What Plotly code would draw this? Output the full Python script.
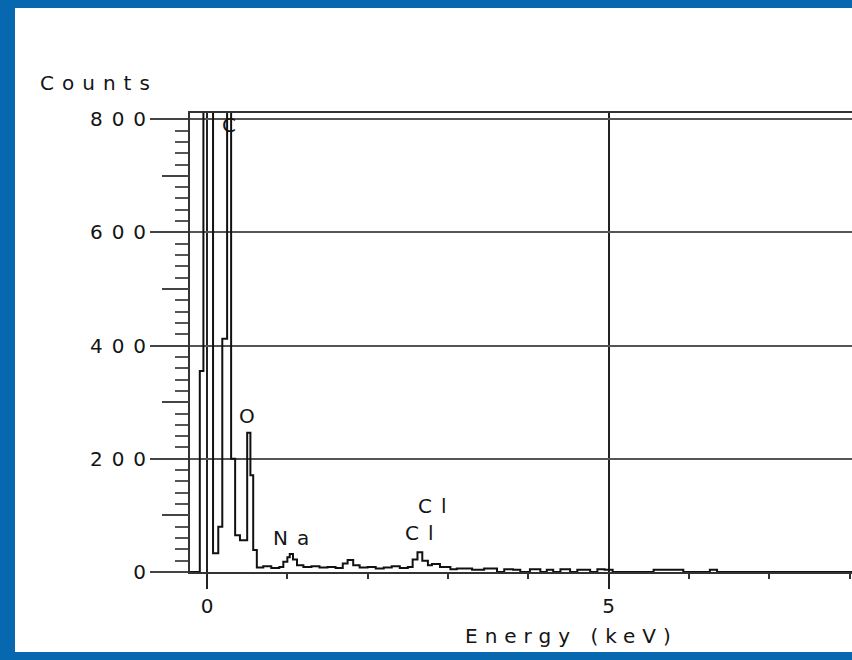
import plotly.graph_objects as go

# ---- data ----
energy_kev = [-0.212, -0.09, -0.045, 0.075, 0.14, 0.19, 0.25, 0.30, 0.35, 0.41, 0.50, 0.54,
              0.575, 0.62, 0.70, 0.80, 0.90, 0.95, 1.00, 1.03, 1.07, 1.12, 1.20, 1.30, 1.40,
              1.50, 1.60, 1.69, 1.75, 1.82, 1.90, 2.00, 2.10, 2.20, 2.30, 2.40, 2.50, 2.56,
              2.62, 2.68, 2.75, 2.80, 2.90, 3.03, 3.11, 3.30, 3.45, 3.61, 3.70, 3.81, 3.90,
              4.02, 4.15, 4.23, 4.31, 4.40, 4.52, 4.61, 4.77, 4.86, 4.95, 5.05, 5.56, 5.93,
              6.26, 6.35, 8.10]
counts = [0, 355, 1500, 33, 80, 412, 1500, 200, 65, 56, 246, 171,
          39, 8, 10, 7, 9, 18, 26, 32, 22, 12, 9, 10, 8,
          9, 7, 15, 21, 12, 8, 9, 6, 8, 10, 7, 9, 22,
          35, 20, 12, 14, 9, 5, 6, 4, 6, 0, 5, 4, 0,
          5, 0, 4, 0, 5, 0, 4, 0, 5, 4, 0, 4, 0,
          4, 0, 0]

peak_labels = ["C", "O", "Na", "Cl", "Cl"]
peak_x = [0.27, 0.50, 1.04, 2.64, 2.81]
peak_y = [789, 276, 60, 69, 117]

y_tick_vals = [0, 200, 400, 600, 800]
y_mid_vals = [100, 300, 500, 700]
x_tick_vals = [0, 5]

FONT = "DejaVu Sans"
INK = "#141414"
FS = 20


def sp(t, s=7):
    # letter-spacing on every glyph but the last, so no trailing gap
    if len(t) < 2:
        return t
    return f'<span style="letter-spacing:{s}px">{t[:-1]}</span>{t[-1]}'


fig = go.Figure()
fig.add_trace(go.Scatter(x=energy_kev, y=counts, mode="lines", line_shape="hv",
                         line=dict(color="#111111", width=2), showlegend=False,
                         hoverinfo="skip"))
# invisible trace so the medium-tick axis is drawn
fig.add_trace(go.Scatter(x=[0], y=[0], yaxis="y2", mode="markers",
                         marker=dict(opacity=0), showlegend=False, hoverinfo="skip"))

for t, x, y in zip(peak_labels, peak_x, peak_y):
    fig.add_annotation(x=x, y=y, text=sp(t, 9), showarrow=False,
                       font=dict(family=FONT, size=FS, color=INK))

fig.add_annotation(xref="paper", yref="paper", x=(38 - 190) / 662, y=1.065, xanchor="left",
                   yanchor="middle", text=sp("Counts", 8), showarrow=False,
                   font=dict(family=FONT, size=FS, color=INK))
fig.add_annotation(xref="paper", yref="paper", x=(463 - 190) / 662, y=-0.139, xanchor="left",
                   yanchor="middle", text=sp("Energy (keV)", 7), showarrow=False,
                   font=dict(family=FONT, size=FS, color=INK))

# white page panel inside the blue frame
fig.add_shape(type="rect", xref="paper", yref="paper", layer="below",
              x0=(15 - 190) / 662, x1=1.05, y0=(572 - 652) / 459, y1=(572 - 8) / 459,
              fillcolor="white", line=dict(width=0))

fig.update_layout(
    width=852, height=660, autosize=False,
    margin=dict(l=190, r=0, t=113, b=88, pad=0),
    paper_bgcolor="#0768AF", plot_bgcolor="white",
    font=dict(family=FONT, size=FS, color=INK),
    xaxis=dict(range=[-0.212, 8.03], tickmode="array", tickvals=x_tick_vals,
               ticktext=[str(v) for v in x_tick_vals],
               showgrid=True, gridcolor="#222222", gridwidth=2.4,
               zeroline=False, showline=True, linecolor="#333333", linewidth=1.8,
               mirror=True, ticks="outside", ticklen=15, tickwidth=2.2, tickcolor="#222222",
               minor=dict(dtick=1, tick0=0, ticks="outside", ticklen=5, tickwidth=2,
                          tickcolor="#333333", showgrid=False),
               tickfont=dict(family=FONT, size=FS, color=INK), fixedrange=True),
    yaxis=dict(range=[0, 811], tickmode="array", tickvals=y_tick_vals,
               ticktext=[sp(str(v), 9) for v in y_tick_vals],
               showgrid=True, gridcolor="#555555", gridwidth=1.8,
               zeroline=False, showline=True, linecolor="#333333", linewidth=1.8,
               mirror=False, ticks="outside", ticklen=38, tickwidth=1.8, tickcolor="#444444",
               minor=dict(dtick=20, tick0=0, ticks="outside", ticklen=13, tickwidth=1.5,
                          tickcolor="#555555", showgrid=False),
               tickfont=dict(family=FONT, size=FS, color=INK), fixedrange=True),
    yaxis2=dict(range=[0, 811], overlaying="y", anchor="x", side="left",
                tickmode="array", tickvals=y_mid_vals, ticks="outside", ticklen=27,
                tickwidth=1.6, tickcolor="#444444", showticklabels=False,
                showgrid=False, zeroline=False, showline=False, fixedrange=True),
)

fig.write_html("out.html")
